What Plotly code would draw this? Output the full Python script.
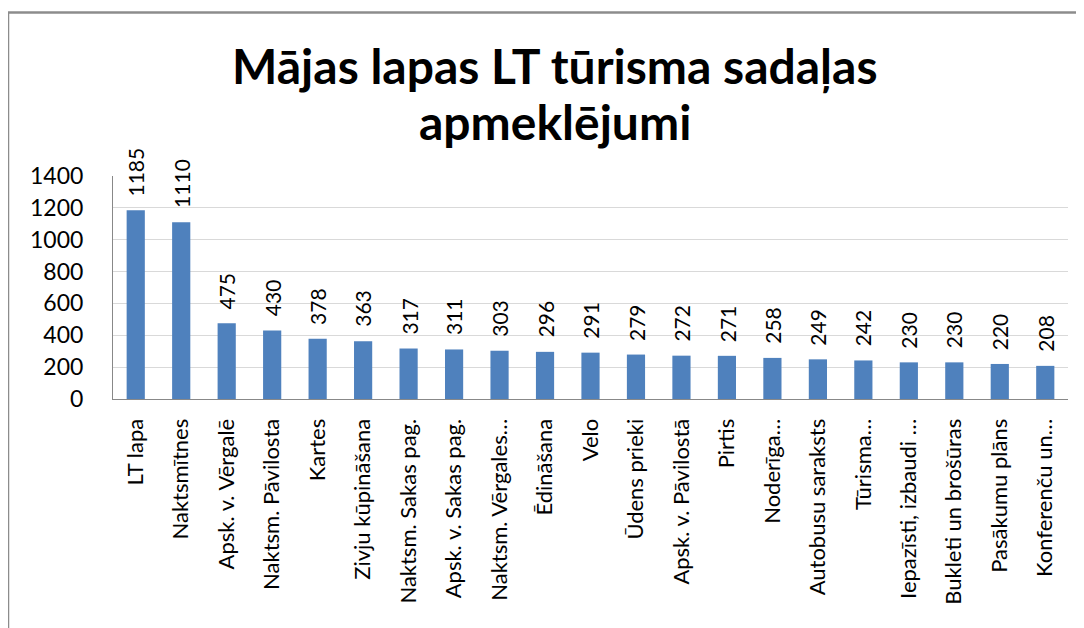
import plotly.graph_objects as go

categories = [
    "LT lapa", "Naktsmītnes", "Apsk. v. Vērgalē", "Naktsm. Pāvilosta", "Kartes",
    "Zivju kūpināšana", "Naktsm. Sakas pag.", "Apsk. v. Sakas pag.", "Naktsm. Vērgales…",
    "Ēdināšana", "Velo", "Ūdens prieki", "Apsk. v. Pāvilostā", "Pirtis", "Noderīga…",
    "Autobusu saraksts", "Tūrisma…", "Iepazīsti, izbaudi …", "Bukleti un brošūras",
    "Pasākumu plāns", "Konferenču un…",
]
values = [1185, 1110, 475, 430, 378, 363, 317, 311, 303, 296, 291, 279, 272, 271, 258,
          249, 242, 230, 230, 220, 208]
y_ticks = [0, 200, 400, 600, 800, 1000, 1200, 1400]
title_lines = ["Mājas lapas LT tūrisma sadaļas", "apmeklējumi"]

# page has an 8px body margin; positions below are reference-pixel coordinates
OFF = 8
W, H = 1084 - OFF, 628 - OFF
L, R, T, B = 113, 1068, 176, 399

def px(x):
    return (x - L) / (R - L)

def py(y):
    return (B - y) / (B - T)

FONT = "Lato"

fig = go.Figure(go.Bar(
    x=categories, y=values,
    marker=dict(color="#4F81BD", line=dict(width=0)),
    cliponaxis=False,
))

label_annotations = [
    dict(x=c, y=v, xref="x", yref="y", text=str(v), textangle=-90,
         xanchor="center", yanchor="bottom", yshift=12, showarrow=False,
         font=dict(family=FONT, size=21, color="#000000"))
    for c, v in zip(categories, values)
]

title_annotations = [
    dict(text=title_lines[0], xref="paper", yref="paper",
         x=px(555), y=py(66), xanchor="center", yanchor="middle", showarrow=False,
         font=dict(family=FONT, size=48, color="#000000", weight="bold")),
    dict(text=title_lines[1], xref="paper", yref="paper",
         x=px(555), y=py(121), xanchor="center", yanchor="middle", showarrow=False,
         font=dict(family=FONT, size=48, color="#000000", weight="bold")),
]

fig.update_layout(
    width=W, height=H,
    margin=dict(l=L - OFF, r=1084 - R, t=T - OFF, b=628 - B, autoexpand=False),
    paper_bgcolor="white", plot_bgcolor="white",
    bargap=0.6,
    showlegend=False,
    xaxis=dict(
        tickangle=-90, tickfont=dict(family=FONT, size=22, color="#000000"),
        showline=True, linecolor="#888888", linewidth=1,
        showgrid=False, ticks="", ticklabelstandoff=10, automargin=False,
    ),
    yaxis=dict(
        range=[0, 1400], tickvals=y_ticks,
        tickfont=dict(family=FONT, size=23, color="#000000"),
        showline=True, linecolor="#888888", linewidth=1,
        showgrid=True, gridcolor="#D9D9D9", gridwidth=1,
        zeroline=False, ticks="", ticklabelstandoff=24, automargin=False,
    ),
    annotations=label_annotations + title_annotations,
    shapes=[
        dict(type="line", xref="paper", yref="paper", x0=px(8), x1=px(1084 + 5),
             y0=py(12.5), y1=py(12.5), line=dict(color="#8C8C8C", width=2.5)),
        dict(type="line", xref="paper", yref="paper", x0=px(8), x1=px(8),
             y0=py(12.5), y1=py(628 + 5), line=dict(color="#8C8C8C", width=2.5)),
    ],
)

fig.write_html("out.html")
